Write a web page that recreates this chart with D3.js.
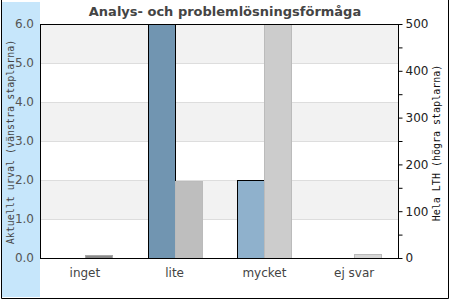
<!DOCTYPE html>
<html>
<head>
<meta charset="utf-8">
<script src="https://cdn.jsdelivr.net/npm/d3@7"></script>
<style>
  body { margin: 0; background: #fff; }
  svg { display: block; }
</style>
</head>
<body>
<div id="chart"></div>
<script>
const categories = ["inget", "lite", "mycket", "ej svar"];
const urvalValues = [0, 6.0, 2.0, 0];        // left axis
const lthValues = [6, 165, 500, 9];          // right axis
const leftTicks = [0, 1, 2, 3, 4, 5, 6];
const rightTicks = [0, 100, 200, 300, 400, 500];
const urvalColors = ["#7195b1", "#7195b1", "#8fb1cc", "#8fb1cc"];
const lthColors = ["#8a8a8a", "#bebebe", "#cccccc", "#d6d6d6"];

const width = 450, height = 300;
const m = { left: 40, right: 399, top: 24, bottom: 258 };

const svg = d3.select("#chart").append("svg")
    .attr("width", width)
    .attr("height", height);

// light blue strip behind left axis
svg.append("rect")
    .attr("x", 2).attr("y", 2)
    .attr("width", 38).attr("height", 295)
    .attr("fill", "#c6e6fb");

// outer frame (left, right, bottom)
svg.append("path")
    .attr("d", "M1.5,0V298.5H448.5V0")
    .attr("fill", "none")
    .attr("stroke", "#000");

const x = d3.scaleBand().domain(categories).range([m.left, m.right]);
const yL = d3.scaleLinear().domain([0, 6]).range([m.bottom, m.top]);
const yR = d3.scaleLinear().domain([0, 500]).range([m.bottom, m.top]);

// alternating bands
const bands = svg.append("g");
for (let i = 0; i < 6; i++) {
  bands.append("rect")
      .attr("x", m.left)
      .attr("y", yL(i + 1))
      .attr("width", m.right - m.left)
      .attr("height", yL(i) - yL(i + 1))
      .attr("fill", i % 2 === 1 ? "#f2f2f2" : "#fff");
}
svg.append("g").selectAll("line")
    .data(leftTicks.slice(1, -1))
    .enter().append("line")
    .attr("x1", m.left).attr("x2", m.right)
    .attr("y1", d => Math.round(yL(d)) + 0.5)
    .attr("y2", d => Math.round(yL(d)) + 0.5)
    .attr("stroke", "#dddddd");

const bw = 27;
const centers = categories.map(c => x(c) + x.bandwidth() / 2);

// left bars
svg.append("g").selectAll("rect")
    .data(urvalValues)
    .enter().append("rect")
    .filter(d => d > 0)
    .attr("x", (d, i) => Math.round(centers[urvalValues.indexOf(d)] - bw) + 0.5)
    .attr("y", d => Math.round(yL(d)) + 0.5)
    .attr("width", bw)
    .attr("height", d => yL(0) - Math.round(yL(d)))
    .attr("fill", d => urvalColors[urvalValues.indexOf(d)])
    .attr("stroke", "#000");

// right bars
svg.append("g").selectAll("rect")
    .data(lthValues)
    .enter().append("rect")
    .attr("x", (d, i) => Math.round(centers[i]) + 0.5)
    .attr("y", d => Math.round(yR(d)) + 0.5)
    .attr("width", bw)
    .attr("height", d => yR(0) - Math.round(yR(d)))
    .attr("fill", (d, i) => lthColors[i])
    .attr("stroke", (d, i) => i === 0 ? "#a8a8a8" : "#bbbbbb");

// plot frame
svg.append("rect")
    .attr("x", m.left + 0.5).attr("y", m.top + 0.5)
    .attr("width", m.right - m.left - 1)
    .attr("height", m.bottom - m.top)
    .attr("fill", "none")
    .attr("stroke", "#000")
    .attr("stroke-width", 1);

// left axis labels
svg.append("g").selectAll("text")
    .data(leftTicks)
    .enter().append("text")
    .attr("x", 34)
    .attr("y", d => yL(d) + 4)
    .attr("text-anchor", "end")
    .attr("font-family", "DejaVu Sans")
    .attr("font-size", 12)
    .attr("fill", "#555")
    .text(d => d.toFixed(1));

// right axis
const rightAxis = d3.axisRight(yR)
    .tickValues(d3.range(0, 501, 50))
    .tickSize(4)
    .tickFormat(d => rightTicks.includes(d) ? d : "");
const ra = svg.append("g")
    .attr("transform", `translate(${m.right - 0.5},0)`)
    .call(rightAxis);
ra.select(".domain").remove();
ra.selectAll("line").attr("stroke", "#000");
ra.selectAll("text")
    .attr("x", 7)
    .attr("font-family", "DejaVu Sans")
    .attr("font-size", 12)
    .attr("fill", "#222");

// category labels
svg.append("g").selectAll("text")
    .data(categories)
    .enter().append("text")
    .attr("x", (d, i) => centers[i])
    .attr("y", 277)
    .attr("text-anchor", "middle")
    .attr("font-family", "DejaVu Sans")
    .attr("font-size", 12)
    .attr("fill", "#444")
    .text(d => d);

// title
svg.append("text")
    .attr("x", 225)
    .attr("y", 16)
    .attr("text-anchor", "middle")
    .attr("font-family", "DejaVu Sans")
    .attr("font-weight", "bold")
    .attr("font-size", 13)
    .attr("fill", "#444")
    .text("Analys- och problemlösningsförmåga");

// axis titles
svg.append("text")
    .attr("transform", "translate(14,142) rotate(-90)")
    .attr("text-anchor", "middle")
    .attr("font-family", "DejaVu Sans Mono")
    .attr("font-size", 10)
    .attr("fill", "#444")
    .text("Aktuellt urval (vänstra staplarna)");

svg.append("text")
    .attr("transform", "translate(440,143) rotate(-90)")
    .attr("text-anchor", "middle")
    .attr("font-family", "DejaVu Sans Mono")
    .attr("font-size", 10)
    .attr("fill", "#111")
    .text("Hela LTH (högra staplarna)");
</script>
</body>
</html>
